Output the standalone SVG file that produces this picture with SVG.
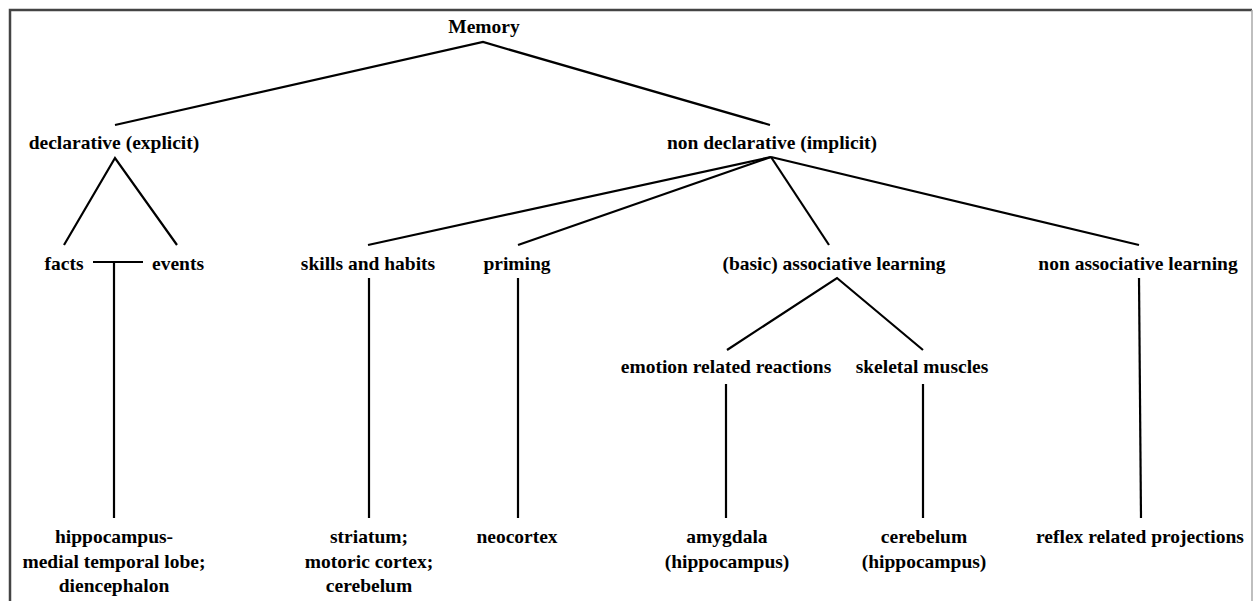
<svg xmlns="http://www.w3.org/2000/svg" width="1253" height="601" viewBox="0 0 1253 601">
<style>
text{font-family:"Liberation Serif","Times New Roman",serif;font-weight:bold;font-size:19.5px;fill:#000;text-anchor:middle}
.c line,.c polyline{stroke:#000;stroke-width:2.2;fill:none}
</style>
<rect x="0" y="0" width="1253" height="601" fill="#fff"/>
<g id="frame">
<path d="M10,601 V10 H1252" fill="none" stroke="#444" stroke-width="2.5"/>
<line x1="1252" y1="10" x2="1252" y2="601" stroke="#aaa" stroke-width="1.5"/>
</g>
<g class="c" id="connectors">
<polyline points="115,125 483,42 770,125"/>
<polyline points="64,245 115,158 177,245"/>
<line x1="93" y1="262" x2="143" y2="262"/>
<line x1="114" y1="262" x2="114" y2="518"/>
<line x1="771" y1="157" x2="368" y2="245"/>
<line x1="771" y1="157" x2="518" y2="245"/>
<line x1="771" y1="157" x2="829" y2="245"/>
<line x1="771" y1="157" x2="1139" y2="245"/>
<line x1="369" y1="278" x2="369" y2="518"/>
<line x1="518" y1="278" x2="518" y2="518"/>
<polyline points="727,350 837,278 923,350"/>
<line x1="726" y1="384" x2="726" y2="518"/>
<line x1="923" y1="384" x2="923" y2="518"/>
<line x1="1139" y1="278" x2="1141" y2="518"/>
</g>
<g id="memory"><text x="484" y="33">Memory</text></g>
<g id="declarative"><text x="114" y="149">declarative (explicit)</text></g>
<g id="nondeclarative"><text x="772" y="149">non declarative (implicit)</text></g>
<g id="facts"><text x="64" y="270">facts</text></g>
<g id="events"><text x="178" y="270">events</text></g>
<g id="skills"><text x="368" y="270">skills and habits</text></g>
<g id="priming"><text x="517" y="270">priming</text></g>
<g id="associative"><text x="834" y="270">(basic) associative learning</text></g>
<g id="nonassociative"><text x="1138" y="270">non associative learning</text></g>
<g id="emotion"><text x="726" y="373">emotion related reactions</text></g>
<g id="skeletal"><text x="922" y="373">skeletal muscles</text></g>
<g id="hippocampus"><text x="114" y="543">hippocampus-</text><text x="114" y="568">medial temporal lobe;</text><text x="114" y="592">diencephalon</text></g>
<g id="striatum"><text x="369" y="543">striatum;</text><text x="369" y="568">motoric cortex;</text><text x="369" y="592">cerebelum</text></g>
<g id="neocortex"><text x="517" y="543">neocortex</text></g>
<g id="amygdala"><text x="727" y="543">amygdala</text><text x="727" y="568">(hippocampus)</text></g>
<g id="cerebelum"><text x="924" y="543">cerebelum</text><text x="924" y="568">(hippocampus)</text></g>
<g id="reflex"><text x="1140" y="543">reflex related projections</text></g>
</svg>
